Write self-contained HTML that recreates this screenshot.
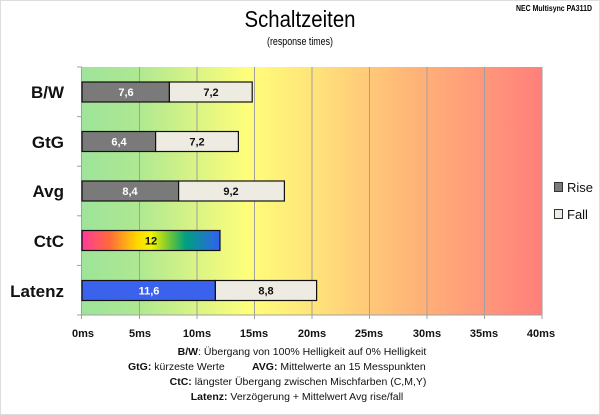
<!DOCTYPE html>
<html><head><meta charset="utf-8"><style>
html,body{margin:0;padding:0;background:#fff}
svg{display:block;font-family:"Liberation Sans",sans-serif}
</style></head><body>
<svg width="600" height="415" viewBox="0 0 600 415" xmlns="http://www.w3.org/2000/svg">
<defs>
<linearGradient id="bg" x1="0" x2="1" y1="0" y2="0">
<stop offset="0" stop-color="#9ee49a"/>
<stop offset="0.12" stop-color="#aee892"/>
<stop offset="0.36" stop-color="#fffe7a"/>
<stop offset="0.5" stop-color="#ffe47a"/>
<stop offset="0.7" stop-color="#ffb878"/>
<stop offset="1" stop-color="#ff7f7b"/>
</linearGradient>
<linearGradient id="ctc" x1="0" x2="1" y1="0" y2="0">
<stop offset="0" stop-color="#ff3a9a"/>
<stop offset="0.2" stop-color="#ff6a3a"/>
<stop offset="0.4" stop-color="#ffd800"/>
<stop offset="0.5" stop-color="#f4f400"/>
<stop offset="0.65" stop-color="#60c040"/>
<stop offset="0.75" stop-color="#00a080"/>
<stop offset="1" stop-color="#3060f0"/>
</linearGradient>
</defs>
<rect x="0.5" y="0.5" width="599" height="414" fill="#fff" stroke="#ddd"/>
<text x="300" y="27" font-size="23" text-anchor="middle" textLength="111" lengthAdjust="spacingAndGlyphs">Schaltzeiten</text>
<text x="300" y="45" font-size="11" text-anchor="middle" textLength="66" lengthAdjust="spacingAndGlyphs">(response times)</text>
<text x="592" y="11" font-size="8.5" text-anchor="end" font-weight="bold" textLength="76" lengthAdjust="spacingAndGlyphs">NEC Multisync PA311D</text>
<rect x="82" y="67" width="460" height="248" fill="url(#bg)"/>
<g stroke="#a0a0a0" stroke-width="1">
<line x1="139.5" y1="67" x2="139.5" y2="319"/>
<line x1="197" y1="67" x2="197" y2="319"/>
<line x1="254.5" y1="67" x2="254.5" y2="319"/>
<line x1="312" y1="67" x2="312" y2="319"/>
<line x1="369.5" y1="67" x2="369.5" y2="319"/>
<line x1="427" y1="67" x2="427" y2="319"/>
<line x1="484.5" y1="67" x2="484.5" y2="319"/>
<line x1="542" y1="67" x2="542" y2="319"/>
<line x1="81.5" y1="67" x2="81.5" y2="319"/>
<line x1="77" y1="67" x2="82" y2="67"/>
<line x1="77" y1="116.6" x2="82" y2="116.6"/>
<line x1="77" y1="166.2" x2="82" y2="166.2"/>
<line x1="77" y1="215.8" x2="82" y2="215.8"/>
<line x1="77" y1="265.4" x2="82" y2="265.4"/>
<line x1="77" y1="315" x2="82" y2="315"/>
<line x1="82" y1="315" x2="542" y2="315"/>
</g>
<g stroke="#111" stroke-width="1.2">
<rect x="82" y="82" width="87.4" height="20" fill="#7a7a7a"/>
<rect x="169.4" y="82" width="82.8" height="20" fill="#eeebe2"/>
<rect x="82" y="131.5" width="73.6" height="20" fill="#7a7a7a"/>
<rect x="155.6" y="131.5" width="82.8" height="20" fill="#eeebe2"/>
<rect x="82" y="181" width="96.6" height="20" fill="#7a7a7a"/>
<rect x="178.6" y="181" width="105.8" height="20" fill="#eeebe2"/>
<rect x="82" y="230.5" width="138" height="20" fill="url(#ctc)"/>
<rect x="82" y="280.5" width="133.4" height="20" fill="#3a62ec"/>
<rect x="215.4" y="280.5" width="101.2" height="20" fill="#eeebe2"/>
</g>
<g font-size="11" font-weight="bold" text-anchor="middle">
<text x="126" y="96" fill="#fff">7,6</text>
<text x="211" y="96" fill="#111">7,2</text>
<text x="119" y="145.5" fill="#fff">6,4</text>
<text x="197" y="145.5" fill="#111">7,2</text>
<text x="130" y="195" fill="#fff">8,4</text>
<text x="231" y="195" fill="#111">9,2</text>
<text x="151" y="244.5" fill="#111">12</text>
<text x="149" y="294.5" fill="#fff">11,6</text>
<text x="266" y="294.5" fill="#111">8,8</text>
</g>
<g font-size="17" font-weight="bold" text-anchor="end" fill="#111">
<text x="64" y="98">B/W</text>
<text x="64" y="148">GtG</text>
<text x="64" y="197">Avg</text>
<text x="64" y="247">CtC</text>
<text x="64" y="297">Latenz</text>
</g>
<g font-size="11" font-weight="bold" text-anchor="middle" fill="#111">
<text x="83" y="337">0ms</text>
<text x="140" y="337">5ms</text>
<text x="197" y="337">10ms</text>
<text x="254" y="337">15ms</text>
<text x="312" y="337">20ms</text>
<text x="369" y="337">25ms</text>
<text x="427" y="337">30ms</text>
<text x="484" y="337">35ms</text>
<text x="541" y="337">40ms</text>
</g>
<rect x="554.5" y="182.5" width="8" height="9" fill="#7a7a7a" stroke="#333"/>
<rect x="554.5" y="209.5" width="8" height="9" fill="#eeebe2" stroke="#333"/>
<text x="567" y="192" font-size="13" fill="#111">Rise</text>
<text x="567" y="219" font-size="13" fill="#111">Fall</text>
<g font-size="10.5" fill="#111">
<text x="302" y="355" text-anchor="middle"><tspan font-weight="bold">B/W</tspan>:  Übergang von 100% Helligkeit auf 0% Helligkeit</text>
<text x="128" y="370"><tspan font-weight="bold">GtG:</tspan> kürzeste Werte</text>
<text x="252" y="370"><tspan font-weight="bold">AVG:</tspan> Mittelwerte an 15 Messpunkten</text>
<text x="298" y="385" text-anchor="middle"><tspan font-weight="bold">CtC:</tspan> längster Übergang zwischen Mischfarben (C,M,Y)</text>
<text x="297" y="400" text-anchor="middle"><tspan font-weight="bold">Latenz:</tspan> Verzögerung + Mittelwert Avg rise/fall</text>
</g>
</svg>
</body></html>
